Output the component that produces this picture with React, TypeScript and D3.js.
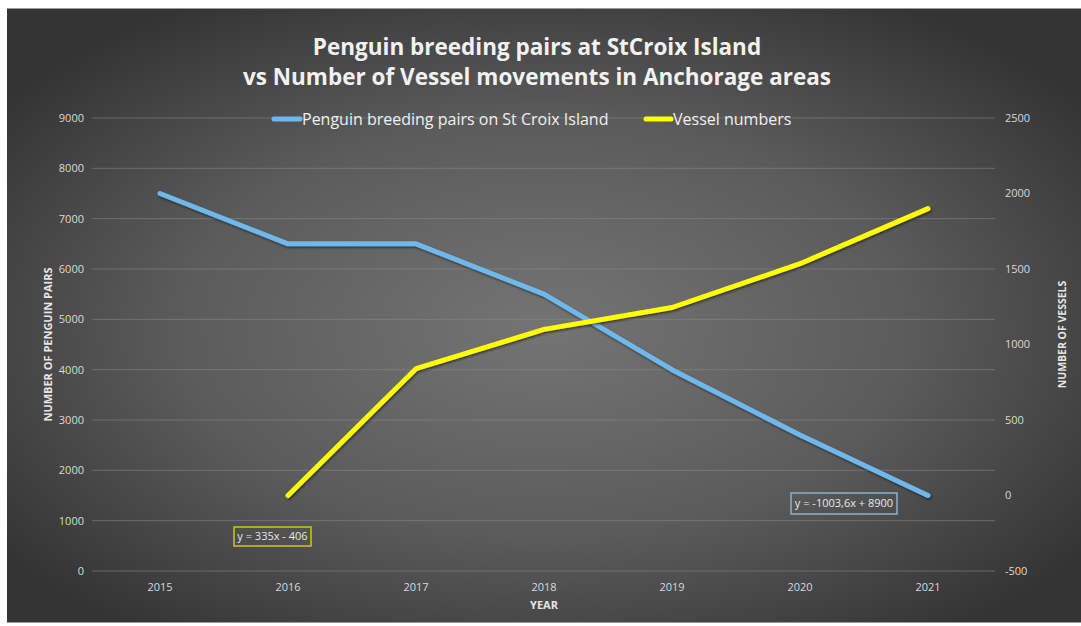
import React from "react";
import * as d3 from "d3";

const years = ["2015", "2016", "2017", "2018", "2019", "2020", "2021"];
const penguinPairs = [7500, 6500, 6500, 5500, 4000, 2700, 1500];
const vesselYears = ["2016", "2017", "2018", "2019", "2020", "2021"];
const vesselNumbers = [0, 840, 1100, 1245, 1535, 1900];
const leftTicks = [0, 1000, 2000, 3000, 4000, 5000, 6000, 7000, 8000, 9000];
const rightTicks = [-500, 0, 500, 1000, 1500, 2000, 2500];
const titleLines = [
  "Penguin breeding pairs at StCroix Island",
  "vs Number of Vessel movements in Anchorage areas",
];
const seriesNames = ["Penguin breeding pairs on St Croix Island", "Vessel numbers"];
const trendLabels = ["y = 335x - 406", "y = -1003,6x + 8900"];

const W = 1081;
const H = 626;
const plot = { left: 96, right: 992, top: 118, bottom: 571 };
const FONT = "'Open Sans', 'DejaVu Sans', sans-serif";
const BLUE = "#6fb7ea";
const YELLOW = "#ffff00";

export default function App() {
  const x = d3.scaleBand<string>().domain(years).range([plot.left, plot.right]);
  const cx = (d: string) => (x(d) as number) + x.bandwidth() / 2;
  const yL = d3.scaleLinear().domain([0, 9000]).range([plot.bottom, plot.top]);
  const yR = d3.scaleLinear().domain([-500, 2500]).range([plot.bottom, plot.top]);

  const penguinLine = d3
    .line<number>()
    .x((_, i) => cx(years[i]))
    .y((d) => yL(d))(penguinPairs) as string;
  const vesselLine = d3
    .line<number>()
    .x((_, i) => cx(vesselYears[i]))
    .y((d) => yR(d))(vesselNumbers) as string;

  const midY = (plot.top + plot.bottom) / 2;

  return (
    <svg
      width={W}
      height={H}
      style={{ position: "absolute", left: 0, top: 0, display: "block" }}
      fontFamily={FONT}
    >
      <defs>
        <radialGradient id="bg" cx="0.5" cy="0.52" r="0.62" gradientUnits="objectBoundingBox">
          <stop offset="0" stopColor="#747474" />
          <stop offset="0.55" stopColor="#5b5b5b" />
          <stop offset="1" stopColor="#343434" />
        </radialGradient>
        <filter id="shadow" x="-5%" y="-5%" width="110%" height="110%">
          <feDropShadow dx="1" dy="1.5" stdDeviation="1.2" floodColor="#000" floodOpacity="0.55" />
        </filter>
      </defs>
      <rect x={0} y={0} width={W} height={H} fill="#ffffff" />
      <rect x={7} y={8} width={W - 7} height={615} fill="#9a9a9a" />
      <rect x={7} y={9} width={W - 7} height={613} fill="url(#bg)" />

      {/* gridlines */}
      {leftTicks.map((t) => (
        <line
          key={"g" + t}
          x1={plot.left - 4}
          x2={plot.right + 3}
          y1={yL(t)}
          y2={yL(t)}
          stroke="#8a8a8a"
          strokeOpacity={0.55}
          strokeWidth={1}
        />
      ))}

      {/* left ticks */}
      {leftTicks.map((t) => (
        <text
          key={"l" + t}
          x={84}
          y={yL(t)}
          dy="0.35em"
          textAnchor="end"
          fontSize={11}
          fill="#d9d9d9"
        >
          {t}
        </text>
      ))}
      {/* right ticks */}
      {rightTicks.map((t) => (
        <text
          key={"r" + t}
          x={1005}
          y={yR(t)}
          dy="0.35em"
          textAnchor="start"
          fontSize={11}
          fill="#d9d9d9"
        >
          {t}
        </text>
      ))}
      {/* x ticks */}
      {years.map((yr) => (
        <text
          key={"x" + yr}
          x={cx(yr)}
          y={587}
          dy="0.35em"
          textAnchor="middle"
          fontSize={11}
          fill="#d9d9d9"
        >
          {yr}
        </text>
      ))}

      {/* axis titles */}
      <text
        x={cx("2018")}
        y={605}
        dy="0.35em"
        textAnchor="middle"
        fontSize={11}
        fontWeight="bold"
        fill="#e6e6e6"
      >
        YEAR
      </text>
      <text
        transform={`translate(48,${midY}) rotate(-90)`}
        textAnchor="middle"
        dy="0.35em"
        fontSize={11}
        fontWeight="bold"
        fill="#e6e6e6"
      >
        NUMBER OF PENGUIN PAIRS
      </text>
      <text
        transform={`translate(1062,${midY - 10}) rotate(-90)`}
        textAnchor="middle"
        dy="0.35em"
        fontSize={10.5}
        fontWeight="bold"
        fill="#e6e6e6"
      >
        NUMBER OF VESSELS
      </text>

      {/* title */}
      {titleLines.map((t, i) => (
        <text
          key={"t" + i}
          x={537}
          y={47 + i * 30}
          dy="0.35em"
          textAnchor="middle"
          fontSize={22.5}
          fontWeight="bold"
          fill="#f2f2f2"
        >
          {t}
        </text>
      ))}

      {/* legend */}
      <g>
        <line x1={274} x2={300} y1={119} y2={119} stroke={BLUE} strokeWidth={5} strokeLinecap="round" />
        <text x={302} y={119} dy="0.35em" fontSize={16} fill="#f0f0f0">
          {seriesNames[0]}
        </text>
        <line x1={646} x2={671} y1={119} y2={119} stroke={YELLOW} strokeWidth={5} strokeLinecap="round" />
        <text x={673} y={119} dy="0.35em" fontSize={16} fill="#f0f0f0">
          {seriesNames[1]}
        </text>
      </g>

      {/* series */}
      <path
        d={penguinLine}
        fill="none"
        stroke={BLUE}
        strokeWidth={5}
        strokeLinecap="round"
        strokeLinejoin="round"
        filter="url(#shadow)"
      />
      <path
        d={vesselLine}
        fill="none"
        stroke={YELLOW}
        strokeWidth={5}
        strokeLinecap="round"
        strokeLinejoin="round"
        filter="url(#shadow)"
      />

      {/* trendline labels */}
      <g>
        <rect x={234} y={527} width={77} height={19} fill="none" stroke="#c9c81e" strokeWidth={1.5} />
        <text x={272.5} y={536.5} dy="0.35em" textAnchor="middle" fontSize={11} fill="#e8e8e8">
          {trendLabels[0]}
        </text>
        <rect x={791} y={493} width={106} height={21} fill="none" stroke="#8fb0c8" strokeWidth={1.5} />
        <text x={844} y={503.5} dy="0.35em" textAnchor="middle" fontSize={11} fill="#e8e8e8">
          {trendLabels[1]}
        </text>
      </g>
    </svg>
  );
}
